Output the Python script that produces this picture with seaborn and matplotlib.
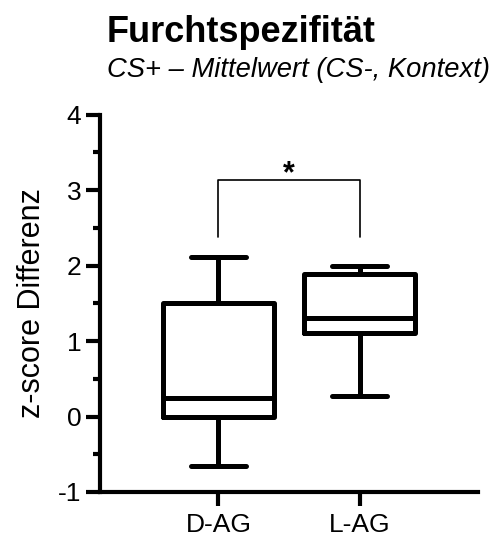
import pandas as pd
import matplotlib
matplotlib.use("Agg")
import matplotlib.pyplot as plt
from matplotlib.ticker import MultipleLocator
import seaborn as sns

# five-number summaries (min, Q1, median, Q3, max)
d_ag = [-0.66, 0.0, 0.25, 1.50, 2.12]
l_ag = [0.27, 1.11, 1.30, 1.885, 1.99]
groups = ["D-AG", "L-AG"]

df = pd.DataFrame({
    "group": [groups[0]] * len(d_ag) + [groups[1]] * len(l_ag),
    "value": d_ag + l_ag,
})

sns.set_style("ticks")
plt.rcParams["font.family"] = ["Liberation Sans", "DejaVu Sans"]
plt.rcParams.update({"text.color": "black", "axes.labelcolor": "black",
                     "xtick.color": "black", "ytick.color": "black"})

fig = plt.figure(figsize=(4.98, 5.42), dpi=100)
ax = fig.add_axes([0.2008, 0.0923, 0.759, 0.696])

sns.boxplot(data=df, x="group", y="value", order=groups, whis=(0, 100),
            width=0.79, fill=False, color="black", linewidth=3.6, ax=ax)

ax.set_ylim(-1, 4)
ax.set_xlim(-0.84, 1.84)
ax.yaxis.set_major_locator(MultipleLocator(1))
ax.yaxis.set_minor_locator(MultipleLocator(0.5))
ax.set_yticklabels([str(int(t)) for t in ax.get_yticks()])
ax.set_xlabel("")
ax.set_ylabel("z-score Differenz", fontsize=22, labelpad=8)
ax.tick_params(axis="y", which="major", labelsize=19, width=3, length=10)
ax.tick_params(axis="x", which="major", labelsize=19, width=3, length=10, pad=5)
ax.tick_params(axis="y", which="minor", width=3, length=5)
sns.despine(ax=ax)
for s in ["left", "bottom"]:
    ax.spines[s].set_linewidth(3)
    ax.spines[s].set_color("black")

# significance bracket
ax.plot([0, 0, 1, 1], [2.38, 3.13, 3.13, 2.38], color="black", lw=1.2)
ax.text(0.5, 3.1, "*", ha="center", va="baseline", fontsize=22, fontweight="bold")

fig.text(107 / 498, 1 - 42 / 542, "Furchtspezifität", fontsize=26, fontweight="bold")
fig.text(107 / 498, 1 - 77 / 542, "CS+ – Mittelwert (CS-, Kontext)", fontsize=19.7, style="italic")

fig.savefig("out.png", dpi=100)
